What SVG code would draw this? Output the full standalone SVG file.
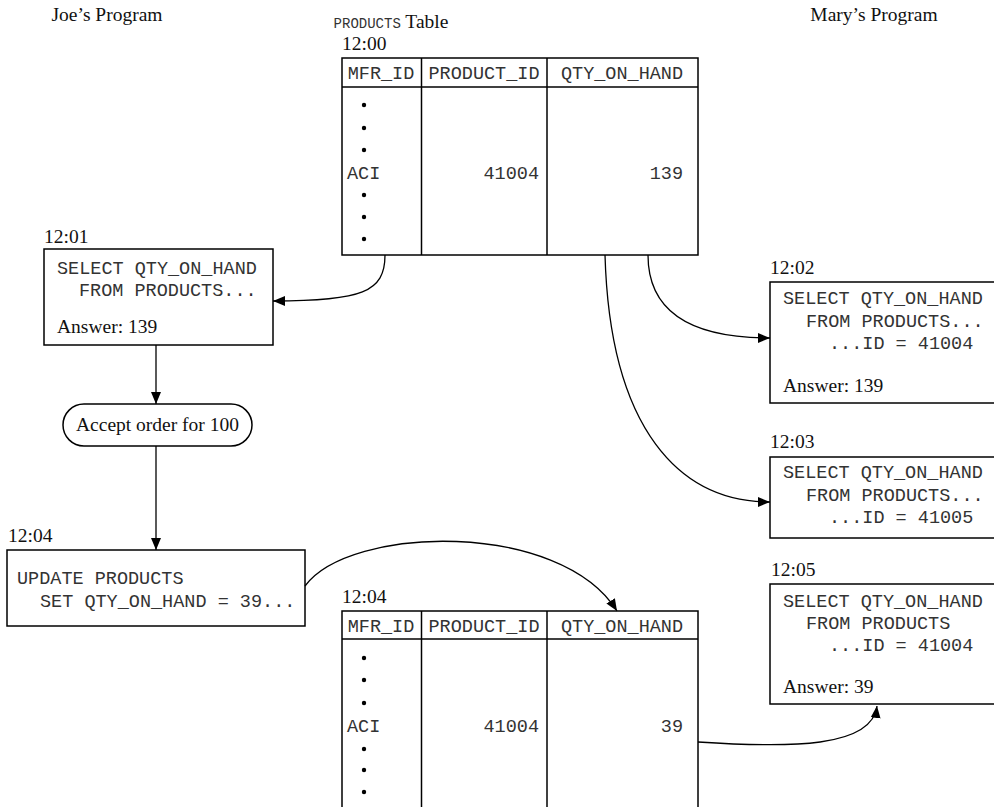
<svg xmlns="http://www.w3.org/2000/svg" width="994" height="807" viewBox="0 0 994 807">
<style>
.box{fill:#fff;stroke:#000;stroke-width:1.5}
.ln{fill:none;stroke:#000;stroke-width:1.5}
.con{fill:none;stroke:#000;stroke-width:1.3}
.m{font-family:"Liberation Mono","Courier New",monospace;font-size:18.5px;fill:#333}
.s{font-family:"Liberation Serif","Times New Roman",serif;font-size:19.5px;fill:#111}
.mid{text-anchor:middle}
.end{text-anchor:end}
.dot{fill:#000}
</style>
<defs>
<marker id="ah" markerUnits="userSpaceOnUse" markerWidth="13" markerHeight="11" refX="12" refY="5" orient="auto">
<path d="M0,0 L12,5 L0,10 z" fill="#000"/>
</marker>
</defs>
<g id="titles">
<text class="s mid" x="107" y="21">Joe’s Program</text>
<text x="391" y="28" class="mid"><tspan class="m" style="font-size:14px">PRODUCTS</tspan><tspan class="s"> Table</tspan></text>
<text class="s mid" x="874" y="21">Mary’s Program</text>
</g>
<g id="table1200">
<text class="s" x="342" y="50">12:00</text>
<rect class="box" x="342" y="58" width="356" height="197"/>
<line class="ln" x1="342" y1="87" x2="698" y2="87"/>
<line class="ln" x1="421.5" y1="58" x2="421.5" y2="255"/>
<line class="ln" x1="547" y1="58" x2="547" y2="255"/>
<text class="m mid" x="381" y="79">MFR_ID</text>
<text class="m mid" x="484" y="79">PRODUCT_ID</text>
<text class="m mid" x="622" y="79">QTY_ON_HAND</text>
<circle class="dot" cx="364" cy="105" r="2.2"/>
<circle class="dot" cx="364" cy="128" r="2.2"/>
<circle class="dot" cx="364" cy="150" r="2.2"/>
<text class="m" x="347" y="179">ACI</text>
<text class="m end" x="539" y="179">41004</text>
<text class="m end" x="683" y="179">139</text>
<circle class="dot" cx="364" cy="195" r="2.2"/>
<circle class="dot" cx="364" cy="217" r="2.2"/>
<circle class="dot" cx="364" cy="239" r="2.2"/>
</g>
<g id="joe1201">
<text class="s" x="44" y="243">12:01</text>
<rect class="box" x="44" y="249" width="229" height="96"/>
<text class="m" x="57" y="274">SELECT QTY_ON_HAND</text>
<text class="m" x="79" y="296">FROM PRODUCTS...</text>
<text class="s" x="57" y="333">Answer: 139</text>
</g>
<g id="accept">
<rect class="box" x="63" y="404" width="189" height="42" rx="21"/>
<text class="s mid" x="157.5" y="431">Accept order for 100</text>
</g>
<g id="joe1204">
<text class="s" x="8" y="542">12:04</text>
<rect class="box" x="7" y="550" width="298" height="76"/>
<text class="m" x="17" y="584">UPDATE PRODUCTS</text>
<text class="m" x="40" y="607">SET QTY_ON_HAND = 39...</text>
</g>
<g id="mary1202">
<text class="s" x="770" y="274">12:02</text>
<rect class="box" x="770" y="282" width="240" height="121"/>
<text class="m" x="783" y="304">SELECT QTY_ON_HAND</text>
<text class="m" x="806" y="327">FROM PRODUCTS...</text>
<text class="m" x="829" y="349">...ID = 41004</text>
<text class="s" x="783" y="392">Answer: 139</text>
</g>
<g id="mary1203">
<text class="s" x="770" y="448">12:03</text>
<rect class="box" x="770" y="457" width="240" height="81"/>
<text class="m" x="783" y="478">SELECT QTY_ON_HAND</text>
<text class="m" x="806" y="501">FROM PRODUCTS...</text>
<text class="m" x="829" y="523">...ID = 41005</text>
</g>
<g id="mary1205">
<text class="s" x="771" y="576">12:05</text>
<rect class="box" x="770" y="584" width="240" height="120"/>
<text class="m" x="783" y="607">SELECT QTY_ON_HAND</text>
<text class="m" x="806" y="629">FROM PRODUCTS</text>
<text class="m" x="829" y="651">...ID = 41004</text>
<text class="s" x="783" y="693">Answer: 39</text>
</g>
<g id="table1204">
<text class="s" x="342" y="603">12:04</text>
<rect class="box" x="342" y="611" width="356" height="210"/>
<line class="ln" x1="342" y1="639" x2="698" y2="639"/>
<line class="ln" x1="421.5" y1="611" x2="421.5" y2="821"/>
<line class="ln" x1="547" y1="611" x2="547" y2="821"/>
<text class="m mid" x="381" y="632">MFR_ID</text>
<text class="m mid" x="484" y="632">PRODUCT_ID</text>
<text class="m mid" x="622" y="632">QTY_ON_HAND</text>
<circle class="dot" cx="364" cy="658" r="2.2"/>
<circle class="dot" cx="364" cy="680" r="2.2"/>
<circle class="dot" cx="364" cy="703" r="2.2"/>
<text class="m" x="347" y="732">ACI</text>
<text class="m end" x="539" y="732">41004</text>
<text class="m end" x="683" y="732">39</text>
<circle class="dot" cx="364" cy="749" r="2.2"/>
<circle class="dot" cx="364" cy="770" r="2.2"/>
<circle class="dot" cx="364" cy="792" r="2.2"/>
</g>
<g id="connectors">
<path class="con" d="M385,255 C385,292 362,301 273,301" marker-end="url(#ah)"/>
<path class="con" d="M156,345 L156,404" marker-end="url(#ah)"/>
<path class="con" d="M156,446 L156,550" marker-end="url(#ah)"/>
<path class="con" d="M648,255 C648,318 700,338 770,338" marker-end="url(#ah)"/>
<path class="con" d="M605,255 C610,430 680,502 770,502" marker-end="url(#ah)"/>
<path class="con" d="M305,586 C350,525 560,520 617,611" marker-end="url(#ah)"/>
<path class="con" d="M698,742 C790,748 872,748 877,706" marker-end="url(#ah)"/>
</g>
</svg>
